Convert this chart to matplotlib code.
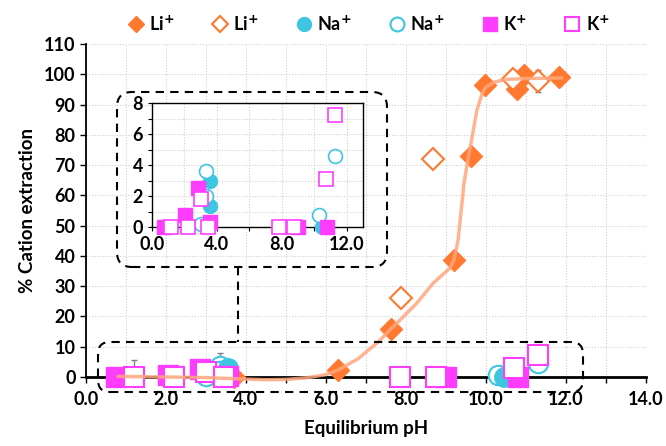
import matplotlib
matplotlib.use("Agg")
import matplotlib.pyplot as plt
from matplotlib.patches import FancyBboxPatch
from matplotlib.lines import Line2D
from matplotlib.ticker import MultipleLocator

plt.rcParams['font.family'] = ['Lato', 'DejaVu Sans']
plt.rcParams['font.weight'] = 'bold'
plt.rcParams['mathtext.default'] = 'bf'

# ---------------- data ----------------
li_f_x = [3.7, 6.3, 7.63, 9.2, 9.63, 9.97, 10.78, 10.95, 11.83]
li_f_y = [0.0, 2.4, 16.0, 38.6, 73.0, 96.3, 95.0, 99.6, 99.1]
li_o_x = [7.88, 8.68, 10.68, 11.3]
li_o_y = [26.0, 72.0, 98.3, 97.8]
li_o_err = [0, 0, 3.0, 3.5]

na_f_x = [3.55, 3.55, 10.45]
na_f_y = [3.0, 1.35, 0.0]
na_o_x = [3.0, 3.35, 3.35, 10.3, 11.3]
na_o_y = [0.2, 3.6, 2.0, 0.8, 4.6]
na_o_err = [0, 4.3, 0, 0, 0]

k_f_x = [0.75, 2.05, 2.85, 3.55, 9.0, 10.8]
k_f_y = [0.0, 0.8, 2.5, 0.3, 0.0, 0.0]
k_o_x = [1.2, 2.2, 3.0, 3.45, 7.85, 8.75, 10.7, 11.3]
k_o_y = [0.0, 0.0, 1.8, 0.0, 0.0, 0.0, 3.1, 7.2]
k_o_err = [5.5, 0, 0, 0, 0, 3.0, 0, 0]

# fitted Li+ curve
fit_x = [0.8, 2.0, 3.0, 4.0, 4.5, 5.0, 5.5, 6.0, 6.3, 6.8, 7.3, 7.63, 7.85, 8.27,
         8.68, 9.1, 9.2, 9.3, 9.38, 9.45, 9.55, 9.65, 9.77, 9.9, 10.0, 10.2, 10.5,
         11.0, 11.9]
fit_y = [0.2, 0.0, -0.2, -0.7, -0.9, -0.8, -0.3, 0.8, 2.3, 6.0, 11.5, 16.0, 18.8,
         24.4, 31.0, 36.0, 38.7, 45.0, 55.0, 64.0, 72.0, 79.0, 88.0, 93.5, 95.8,
         97.4, 98.3, 98.6, 98.8]

LI = '#FF7A30'
NA = '#3EC5E2'
K = '#FF3DFF'
FIT = '#FFA77E'
ERR = '#808080'

fig = plt.figure(figsize=(6.66, 4.46), dpi=100)
ax = fig.add_axes([86/666, 1-377/446, 560/666, 333/446])

ax.set_xlim(0, 14)
ax.set_ylim(0, 110)
ax.xaxis.set_major_locator(MultipleLocator(2))
ax.xaxis.set_minor_locator(MultipleLocator(1))
ax.yaxis.set_major_locator(MultipleLocator(10))
ax.set_xticks([0, 2, 4, 6, 8, 10, 12, 14])
ax.set_xticklabels([f"{v:.1f}" for v in [0, 2, 4, 6, 8, 10, 12, 14]])
ax.grid(True, which='both', axis='x', color='#d0d0d0', linestyle=(0, (1, 1.5)), lw=0.8)
ax.grid(True, which='major', axis='y', color='#d0d0d0', linestyle=(0, (1, 1.5)), lw=0.8)
ax.set_axisbelow(True)
for s in ['top', 'right']:
    ax.spines[s].set_visible(False)
ax.spines['left'].set_linewidth(1.3)
ax.spines['bottom'].set_linewidth(2.0)
ax.tick_params(axis='both', which='both', direction='out', length=4, width=1, labelsize=13)
ax.tick_params(axis='x', pad=6)
ax.set_xlabel('Equilibrium pH', fontsize=13.5, fontweight='bold', labelpad=9)
ax.set_ylabel('% Cation extraction', fontsize=13.5, fontweight='bold', labelpad=6)

ms_d, ms_s, ms_c = 11, 14, 14
kw = dict(linestyle='none', clip_on=False)

ax.errorbar(li_o_x, li_o_y, yerr=li_o_err, fmt='none', ecolor=ERR, elinewidth=1, capsize=2, zorder=2)
ax.errorbar(na_o_x, na_o_y, yerr=na_o_err, fmt='none', ecolor=ERR, elinewidth=1, capsize=2, zorder=2)
ax.errorbar(k_o_x, k_o_y, yerr=k_o_err, fmt='none', ecolor=ERR, elinewidth=1, capsize=2, zorder=2)

ax.plot(li_f_x, li_f_y, marker='D', ms=ms_d, mfc=LI, mec=LI, zorder=3, **kw)
ax.plot(li_o_x, li_o_y, marker='D', ms=ms_d, mfc='white', mec=LI, mew=1.5, zorder=3, **kw)
ax.plot(na_o_x, na_o_y, marker='o', ms=ms_c, mfc='white', mec=NA, mew=1.5, zorder=3, **kw)
ax.plot(na_f_x, na_f_y, marker='o', ms=ms_c, mfc=NA, mec=NA, zorder=3, **kw)
ax.plot(k_f_x, k_f_y, marker='s', ms=ms_s, mfc=K, mec=K, zorder=3, **kw)
ax.plot(k_o_x, k_o_y, marker='s', ms=ms_s, mfc='white', mec=K, mew=1.5, zorder=3, **kw)
ax.plot(fit_x, fit_y, color=FIT, lw=2.5, alpha=0.85, clip_on=False, zorder=4,
        solid_capstyle='round', solid_joinstyle='round')

# legend
handles = [
    Line2D([], [], ls='none', marker='D', ms=8, mfc=LI, mec=LI),
    Line2D([], [], ls='none', marker='D', ms=8, mfc='white', mec=LI, mew=1.5),
    Line2D([], [], ls='none', marker='o', ms=10, mfc=NA, mec=NA),
    Line2D([], [], ls='none', marker='o', ms=10, mfc='white', mec=NA, mew=1.5),
    Line2D([], [], ls='none', marker='s', ms=9.5, mfc=K, mec=K),
    Line2D([], [], ls='none', marker='s', ms=9.5, mfc='white', mec=K, mew=1.5),
]
labels = ['Li$^{+}$', 'Li$^{+}$', 'Na$^{+}$', 'Na$^{+}$', 'K$^{+}$', 'K$^{+}$']
fig.legend(handles, labels, loc='center', bbox_to_anchor=(368/666, 1-24/446), ncol=6,
           frameon=False, handletextpad=0.25, columnspacing=2.0,
           handlelength=1.0, prop={'weight': 'bold', 'size': 13})

# inset
ins = fig.add_axes([152/666, 1-227/446, 211/666, 124/446])
ins.set_xlim(0, 13)
ins.set_ylim(0, 8)
ins.set_xticks([0, 4, 8, 12])
ins.set_xticklabels(['0.0', '4.0', '8.0', '12.0'])
ins.xaxis.set_minor_locator(MultipleLocator(2))
ins.set_yticks([0, 2, 4, 6, 8])
ins.yaxis.set_minor_locator(MultipleLocator(1))
ins.grid(True, which='both', color='#d0d0d0', linestyle=(0, (1, 1.5)), lw=0.8)
ins.set_axisbelow(True)
for s in ins.spines.values():
    s.set_linewidth(1.0)
ins.tick_params(axis='both', which='both', direction='out', length=3, width=0.8, labelsize=13)
ikw = dict(linestyle='none', clip_on=False, zorder=3)
ins.plot(na_f_x, na_f_y, marker='o', ms=10, mfc=NA, mec=NA, **ikw)
ins.plot(na_o_x, na_o_y, marker='o', ms=10, mfc='white', mec=NA, mew=1.2, **ikw)
ins.plot(k_f_x, k_f_y, marker='s', ms=10, mfc=K, mec=K, **ikw)
ins.plot(k_o_x, k_o_y, marker='s', ms=10, mfc='white', mec=K, mew=1.2, **ikw)

# dashed rounded boxes and connector (in inches)
dash = (0, (4, 3))
box1 = FancyBboxPatch((1.17, 1.79), 2.70, 1.75, boxstyle='round,pad=0,rounding_size=0.15',
                      transform=fig.dpi_scale_trans, fill=False, ec='black', lw=1.5,
                      linestyle=dash)
box2 = FancyBboxPatch((0.98, 0.54), 4.85, 0.50, boxstyle='round,pad=0,rounding_size=0.12',
                      transform=fig.dpi_scale_trans, fill=False, ec='black', lw=1.5,
                      linestyle=dash)
fig.patches.extend([box1, box2])
conn = Line2D([2.38, 2.38], [1.79, 1.04], transform=fig.dpi_scale_trans, color='black',
              lw=1.5, linestyle=dash)
fig.lines.append(conn)

fig.savefig('out.png', dpi=100)
